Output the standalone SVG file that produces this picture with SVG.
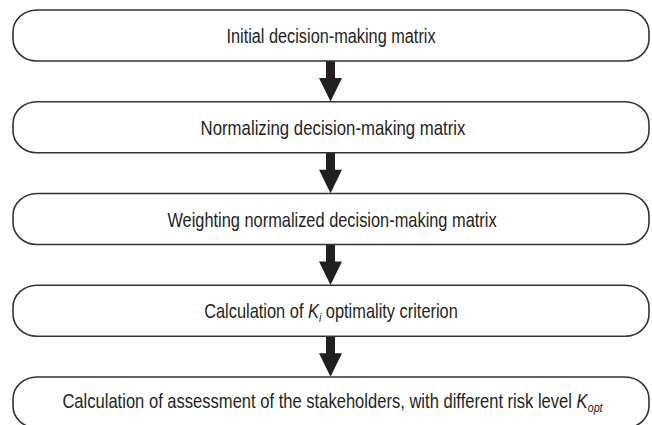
<svg xmlns="http://www.w3.org/2000/svg" width="652" height="425" viewBox="0 0 652 425">
<defs>
<style>
.box{fill:#fff;stroke:#333;stroke-width:1.6}
.t{font-family:"Liberation Sans",Arial,sans-serif;font-size:20px;fill:#231f20;text-anchor:middle}
.sub{font-size:13px;font-style:italic}
.arr{fill:#231f20}
</style>
</defs>
<rect width="652" height="425" fill="#fff"/>
<g id="connectors">
<path class="arr" d="M326,61 H335 V78 H342 L330.5,101.5 L319,78 H326 Z"/>
<path class="arr" d="M326,152.75 H335 V169.75 H342 L330.5,193.25 L319,169.75 H326 Z"/>
<path class="arr" d="M326,244.5 H335 V261.5 H342 L330.5,285 L319,261.5 H326 Z"/>
<path class="arr" d="M326,336.25 H335 V353.25 H342 L330.5,376.75 L319,353.25 H326 Z"/>
</g>
<g id="n1">
<rect class="box" x="13" y="10" width="636" height="51" rx="24" ry="22"/>
<text class="t" transform="translate(331,43) scale(0.815,1)" x="0" y="0">Initial decision-making matrix</text>
</g>
<g id="n2">
<rect class="box" x="13" y="101.75" width="636" height="51" rx="24" ry="22"/>
<text class="t" transform="translate(333,134.5) scale(0.84,1)" x="0" y="0">Normalizing decision-making matrix</text>
</g>
<g id="n3">
<rect class="box" x="13" y="193.5" width="636" height="51" rx="24" ry="22"/>
<text class="t" transform="translate(332,226.5) scale(0.82,1)" x="0" y="0">Weighting normalized decision-making matrix</text>
</g>
<g id="n4">
<rect class="box" x="13" y="285.25" width="636" height="51" rx="24" ry="22"/>
<text class="t" transform="translate(331,318.25) scale(0.82,1)" x="0" y="0">Calculation of <tspan font-style="italic">K</tspan><tspan class="sub" dy="4">i</tspan><tspan dy="-4"> optimality criterion</tspan></text>
</g>
<g id="n5">
<rect class="box" x="13" y="377" width="636" height="51" rx="24" ry="22"/>
<text class="t" transform="translate(332.5,408) scale(0.828,1)" x="0" y="0">Calculation of assessment of the stakeholders, with different risk level <tspan font-style="italic">K</tspan><tspan class="sub" dy="4">opt</tspan></text>
</g>
</svg>
